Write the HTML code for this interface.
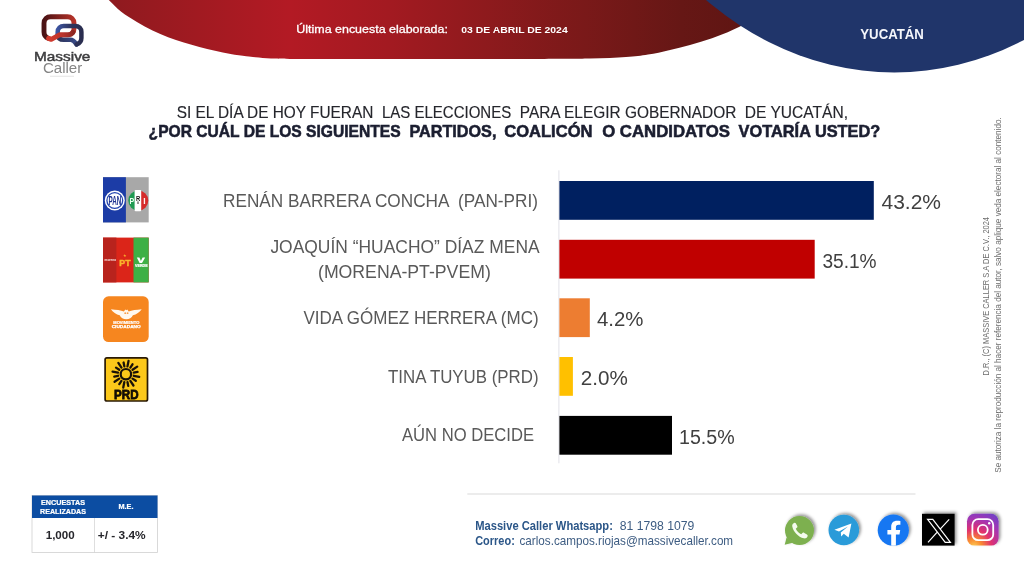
<!DOCTYPE html>
<html lang="es">
<head>
<meta charset="utf-8">
<title>Massive Caller - Yucatán</title>
<style>
html,body{margin:0;padding:0;background:#fff;}
body{width:1024px;height:576px;overflow:hidden;position:relative;font-family:"Liberation Sans",sans-serif;}
svg{position:absolute;left:0;top:0;display:block;}
text{font-family:"Liberation Sans",sans-serif;}
</style>
</head>
<body>
<svg width="1024" height="576" viewBox="0 0 1024 576">
<defs>
<linearGradient id="gr" x1="107" y1="0" x2="760" y2="0" gradientUnits="userSpaceOnUse">
<stop offset="0" stop-color="#8e1a1f"/><stop offset="0.14" stop-color="#a11a21"/><stop offset="0.28" stop-color="#b31a24"/><stop offset="0.43" stop-color="#a31a21"/><stop offset="0.58" stop-color="#8e1a1d"/><stop offset="0.73" stop-color="#7a1919"/><stop offset="0.88" stop-color="#661715"/><stop offset="1" stop-color="#5e1512"/>
</linearGradient>
<filter id="sh" x="-30%" y="-30%" width="160%" height="160%"><feDropShadow dx="1.8" dy="-1.6" stdDeviation="1.6" flood-color="#000" flood-opacity="0.42"/></filter>
</defs>
<rect width="1024" height="576" fill="#fff"/>
<path d="M96.0,-14.0 C98.1,-11.7 104.5,-4.3 108.8,0.0 C113.0,4.3 116.6,8.0 121.2,11.7 C125.9,15.3 131.7,18.8 136.9,21.9 C142.1,25.0 147.3,27.9 152.5,30.5 C157.7,33.0 162.9,35.2 168.1,37.2 C173.3,39.2 178.5,40.9 183.8,42.5 C189.0,44.1 194.2,45.5 199.4,46.9 C204.6,48.3 209.8,49.6 215.0,50.8 C220.2,52.0 225.4,53.0 230.6,53.9 C235.8,54.8 242.1,55.7 246.2,56.2 C250.4,56.8 251.5,56.9 255.6,57.3 C259.7,57.7 265.3,58.2 271.0,58.5 C276.7,58.8 278.5,58.8 290.0,58.9 C301.5,59.0 314.8,59.0 340.0,59.0 C365.2,59.0 407.7,59.0 441.0,59.0 C474.3,59.0 515.2,59.1 540.0,59.0 C564.8,58.9 575.7,58.9 590.0,58.6 C604.3,58.3 616.3,57.8 626.0,57.1 C635.7,56.4 640.8,55.8 648.0,54.6 C655.2,53.5 662.0,51.8 669.0,50.2 C676.0,48.6 682.8,47.0 690.0,45.0 C697.2,43.0 704.8,40.8 712.0,38.3 C719.2,35.8 725.8,33.2 733.0,29.8 C740.2,26.4 748.0,23.0 755.0,18.0 C762.0,13.0 770.0,5.0 775.0,0.0 C780.0,-5.0 783.3,-10.0 785.0,-12.0 Z" fill="url(#gr)"/>
<ellipse cx="894.3" cy="-327.5" rx="328" ry="400" fill="#20356a"/>
<text x="296.3" y="33.3" font-size="11.7" fill="#fff" stroke="#fff" stroke-width="0.3" textLength="151.6" lengthAdjust="spacingAndGlyphs">Última encuesta elaborada:</text>
<text x="461.3" y="33" font-size="9.8" font-weight="bold" fill="#fff" textLength="106.4" lengthAdjust="spacingAndGlyphs">03 DE ABRIL DE 2024</text>
<text x="860.3" y="39" font-size="14.2" font-weight="bold" fill="#f4f6fb" textLength="63.6" lengthAdjust="spacingAndGlyphs">YUCATÁN</text>
<text y="117.6" font-size="16.4" fill="#25262c" stroke="#25262c" stroke-width="0.15" xml:space="preserve"><tspan x="176.7" textLength="196.6" lengthAdjust="spacingAndGlyphs">SI EL DÍA DE HOY FUERAN</tspan> <tspan x="381.9" textLength="129.3" lengthAdjust="spacingAndGlyphs">LAS ELECCIONES</tspan> <tspan x="519.8" textLength="216.5" lengthAdjust="spacingAndGlyphs">PARA ELEGIR GOBERNADOR</tspan> <tspan x="744.8" textLength="103.2" lengthAdjust="spacingAndGlyphs">DE YUCATÁN,</tspan></text>
<text y="137.4" font-size="16.4" font-weight="bold" fill="#1b1e30" stroke="#1b1e30" stroke-width="0.55" xml:space="preserve"><tspan x="148.6" textLength="252" lengthAdjust="spacingAndGlyphs">¿POR CUÁL DE LOS SIGUIENTES</tspan> <tspan x="405" textLength="91.4" lengthAdjust="spacingAndGlyphs"> PARTIDOS,</tspan> <tspan x="504.2" textLength="88.3" lengthAdjust="spacingAndGlyphs">COALICÓN</tspan> <tspan x="597.5" textLength="132.5" lengthAdjust="spacingAndGlyphs"> O CANDIDATOS</tspan> <tspan x="738.6" textLength="141.7" lengthAdjust="spacingAndGlyphs">VOTARÍA USTED?</tspan></text>
<rect x="558.4" y="170.3" width="1" height="293" fill="#e2e2e8"/>
<rect x="559.4" y="181" width="314.4" height="38.8" fill="#002060"/>
<rect x="559.4" y="239.8" width="255.3" height="38.8" fill="#c00000"/>
<rect x="559.4" y="298.3" width="30.4" height="38.8" fill="#ed7d31"/>
<rect x="559.4" y="357" width="13.5" height="38.8" fill="#ffc000"/>
<rect x="559.4" y="415.9" width="112.6" height="38.8" fill="#000000"/>
<text x="881.5" y="209.4" font-size="20.5" fill="#404040" textLength="59.5" lengthAdjust="spacingAndGlyphs">43.2%</text>
<text x="822.4" y="268.2" font-size="20.5" fill="#404040" textLength="54.2" lengthAdjust="spacingAndGlyphs">35.1%</text>
<text x="597" y="326.3" font-size="20.5" fill="#404040" textLength="46.5" lengthAdjust="spacingAndGlyphs">4.2%</text>
<text x="580.8" y="385.4" font-size="20.5" fill="#404040" textLength="47" lengthAdjust="spacingAndGlyphs">2.0%</text>
<text x="679" y="443.8" font-size="20.5" fill="#404040" textLength="55.7" lengthAdjust="spacingAndGlyphs">15.5%</text>
<text x="223" y="206.7" font-size="17.6" fill="#595959" textLength="315" lengthAdjust="spacingAndGlyphs" xml:space="preserve">RENÁN BARRERA CONCHA  (PAN-PRI)</text>
<text x="270.4" y="253" font-size="17.6" fill="#595959" textLength="269.2" lengthAdjust="spacingAndGlyphs" xml:space="preserve">JOAQUÍN “HUACHO” DÍAZ MENA</text>
<text x="318" y="278.3" font-size="17.6" fill="#595959" textLength="172.8" lengthAdjust="spacingAndGlyphs" xml:space="preserve">(MORENA-PT-PVEM)</text>
<text x="303.4" y="323.8" font-size="17.6" fill="#595959" textLength="235.2" lengthAdjust="spacingAndGlyphs" xml:space="preserve">VIDA GÓMEZ HERRERA (MC)</text>
<text x="388" y="383.4" font-size="17.6" fill="#595959" textLength="150.6" lengthAdjust="spacingAndGlyphs" xml:space="preserve">TINA TUYUB (PRD)</text>
<text x="402" y="441.3" font-size="17.6" fill="#595959" textLength="132" lengthAdjust="spacingAndGlyphs" xml:space="preserve">AÚN NO DECIDE</text>
<g id="panpri"><rect x="103" y="177.2" width="45.7" height="45.2" fill="#a8a8a8"/><rect x="103" y="177.2" width="22.9" height="45.2" fill="#1c3ca6"/><circle cx="114.8" cy="200.5" r="10" fill="#fff"/><circle cx="114.8" cy="200.5" r="7.9" fill="none" stroke="#2446b0" stroke-width="1.3"/><text x="108.5" y="205.3" font-size="13.6" font-weight="bold" fill="#1c318f" textLength="12.8" lengthAdjust="spacingAndGlyphs">PAN</text><clipPath id="pric"><circle cx="138.3" cy="200.6" r="10"/></clipPath><g clip-path="url(#pric)"><rect x="127" y="190" width="8" height="22" fill="#1f9a52"/><rect x="141" y="190" width="8" height="22" fill="#d52b2b"/></g><rect x="134.6" y="190" width="6.6" height="21.2" rx="1" fill="#fff"/><text x="129.4" y="204.3" font-size="9.9" font-weight="bold" fill="#eafff0" textLength="4.7" lengthAdjust="spacingAndGlyphs">P</text><text x="135.9" y="200.6" font-size="8" font-weight="bold" fill="#111" textLength="4.2" lengthAdjust="spacingAndGlyphs">R</text><rect x="137" y="201.4" width="2" height="2.6" fill="#333" opacity="0.5"/><text x="143.2" y="204.3" font-size="9.9" font-weight="bold" fill="#fff0ee" textLength="2.4" lengthAdjust="spacingAndGlyphs">I</text></g>
<g id="mpv"><rect x="103" y="237.6" width="45.7" height="44.8" fill="#db2519"/><rect x="103" y="237.6" width="13.4" height="44.8" fill="#b8231d"/><rect x="133.5" y="237.6" width="15.2" height="44.8" fill="#3db045"/><text x="104.6" y="261" font-size="4.4" font-weight="bold" fill="#fbe9e6" textLength="11.4" lengthAdjust="spacingAndGlyphs">morena</text><text x="119.3" y="266.2" font-size="9.2" font-weight="bold" fill="#f9b52c" stroke="#f9b52c" stroke-width="0.45" textLength="11.2" lengthAdjust="spacingAndGlyphs">PT</text><text x="125.2" y="257.2" font-size="3.6" fill="#f9b52c" text-anchor="middle">★</text><path d="M136.8 257.4 L139.4 257.4 L140.9 261 L142.6 257.4 L145.2 257.4 L142 263 L139.6 263 Z" fill="#fff"/><circle cx="141" cy="257.8" r="1.1" fill="#3db045"/><text x="135" y="267.2" font-size="4" font-weight="bold" fill="#fff" stroke="#fff" stroke-width="0.2" textLength="12.6" lengthAdjust="spacingAndGlyphs">VERDE</text></g>
<g id="mc"><rect x="103" y="296.3" width="45.7" height="45.8" rx="5.6" fill="#f6861f"/><path transform="translate(-0.7 -0.3)" d="M111.6 309.5 C117 310.1 121.5 310.5 124.6 311.7 L126 309.8 L127 310.6 L128 309.8 L129.4 311.7 C132.5 310.5 137 310.1 142.4 309.5 C140.6 312.4 137 314.6 133.6 315.6 C132.4 318 130 319.6 127 319.6 C124 319.6 121.6 318 120.4 315.6 C117 314.6 113.4 312.4 111.6 309.5 Z" fill="#fff8ee"/><circle cx="125.2" cy="313.2" r="0.9" fill="#f6861f" opacity="0.8"/><circle cx="127.6" cy="313.2" r="0.9" fill="#f6861f" opacity="0.8"/><text x="126.3" y="324" font-size="3.2" font-weight="bold" fill="#fff" stroke="#fff" stroke-width="0.15" text-anchor="middle" textLength="26" lengthAdjust="spacingAndGlyphs">MOVIMIENTO</text><text x="126.2" y="327.8" font-size="3.9" font-weight="bold" fill="#fff" stroke="#fff" stroke-width="0.25" text-anchor="middle" textLength="29" lengthAdjust="spacingAndGlyphs">CIUDADANO</text></g>
<g id="prd"><rect x="105.1" y="357.8" width="42.4" height="43.2" rx="1.8" fill="#fcc81a" stroke="#2a1a05" stroke-width="1.7"/><circle cx="125.9" cy="374.2" r="5.2" fill="none" stroke="#1a1208" stroke-width="2.2"/><path d="M133.75 375.76 L139.24 376.85 M132.55 378.64 L135.79 380.81 M130.34 380.85 L133.46 385.51 M127.46 382.05 L128.22 385.87 M124.34 382.05 L123.25 387.54 M121.46 380.85 L119.29 384.09 M119.25 378.64 L114.59 381.76 M118.05 375.76 L114.23 376.52 M118.05 372.64 L112.56 371.55 M119.25 369.76 L116.01 367.59 M121.46 367.55 L118.34 362.89 M124.34 366.35 L123.58 362.53 M127.46 366.35 L128.55 360.86 M130.34 367.55 L132.51 364.31 M132.55 369.76 L137.21 366.64 M133.75 372.64 L137.57 371.88 " stroke="#1a1208" stroke-width="2.3" stroke-linecap="round" fill="none"/><text x="126.3" y="399" font-size="12.8" font-weight="bold" fill="#120c04" stroke="#120c04" stroke-width="0.8" text-anchor="middle" textLength="24.4" lengthAdjust="spacingAndGlyphs">PRD</text></g>
<g id="tbl"><rect x="32" y="495.5" width="125.5" height="57" fill="#fff" stroke="#d0d0d0" stroke-width="0.8"/><rect x="32" y="495.5" width="125.5" height="22.5" fill="#0c4da2"/><rect x="94.2" y="518" width="0.7" height="34.5" fill="#d0d0d0"/><text x="63" y="504.6" font-size="6.6" font-weight="bold" fill="#fff" stroke="#fff" stroke-width="0.2" text-anchor="middle" textLength="44" lengthAdjust="spacingAndGlyphs">ENCUESTAS</text><text x="63" y="513.6" font-size="6.6" font-weight="bold" fill="#fff" stroke="#fff" stroke-width="0.2" text-anchor="middle" textLength="46" lengthAdjust="spacingAndGlyphs">REALIZADAS</text><text x="126" y="509" font-size="6.6" font-weight="bold" fill="#fff" stroke="#fff" stroke-width="0.2" text-anchor="middle" textLength="15" lengthAdjust="spacingAndGlyphs">M.E.</text><text x="60.2" y="539" font-size="10.2" font-weight="bold" fill="#26262b" text-anchor="middle" textLength="29" lengthAdjust="spacingAndGlyphs">1,000</text><text x="121.7" y="539" font-size="10.2" font-weight="bold" fill="#26262b" text-anchor="middle" textLength="48" lengthAdjust="spacingAndGlyphs">+/ - 3.4%</text></g>
<g id="ftr" font-size="12.4"><rect x="467.3" y="493.2" width="448.2" height="1.6" fill="#e8e8e8"/><text x="475.2" y="530.4" font-weight="bold" fill="#2b5688" textLength="137.7" lengthAdjust="spacingAndGlyphs">Massive Caller Whatsapp:</text><text x="619.7" y="530.4" fill="#3d5c82" textLength="74.7" lengthAdjust="spacingAndGlyphs">81 1798 1079</text><text x="475.2" y="545.2" font-weight="bold" fill="#2b5688" textLength="39.6" lengthAdjust="spacingAndGlyphs">Correo:</text><text x="519.5" y="545.2" fill="#3d5c82" textLength="213.6" lengthAdjust="spacingAndGlyphs">carlos.campos.riojas@massivecaller.com</text></g>
<g id="icons"><g filter="url(#sh)"><circle cx="799.5" cy="530.4" r="14.5" fill="#7db04f"/><path d="M786.6 537.6 L784.7 544.8 L792.6 542.8 Z" fill="#7db04f"/></g><path transform="translate(799.7 530.6) scale(1.14) translate(-798.85 -529.3)" d="M794 522.6 c-1.2 0.4 -1.9 1.6 -1.7 2.9 c0.8 4.8 5.2 9.4 10.2 10.6 c1.4 0.3 2.7 -0.4 3.2 -1.6 c0.3 -0.8 0.1 -1.4 -0.5 -1.8 l-2.3 -1.4 c-0.7 -0.4 -1.4 -0.3 -1.9 0.3 l-0.8 0.9 c-2.1 -1 -3.8 -2.7 -4.8 -4.8 l0.9 -0.8 c0.6 -0.5 0.7 -1.2 0.3 -1.9 l-1.2 -2.1 c-0.3 -0.5 -0.9 -0.6 -1.4 -0.3 z" fill="#f4fbee"/><g filter="url(#sh)"><circle cx="843.8" cy="530" r="15.3" fill="#2b9bd9"/></g><path d="M834.4 529.8 L851.4 523.4 L848.6 537.4 L843.8 533.8 L841.2 536.4 L840.8 532.4 L848 526.4 L839 531.6 Z" fill="#fff"/><g filter="url(#sh)"><circle cx="893.3" cy="530.2" r="15.6" fill="#1877f2"/></g><clipPath id="fbc"><circle cx="893.3" cy="530.2" r="15.6"/></clipPath><path clip-path="url(#fbc)" d="M891.2 546.5 L891.2 534.4 L887.4 534.4 L887.4 530 L891.2 530 L891.2 526.8 C891.2 522.8 893.6 520.8 897 520.8 C898.6 520.8 900 521 900.4 521.1 L900.4 524.8 L898.4 524.8 C896.6 524.8 895.9 525.8 895.9 527.2 L895.9 530 L900.2 530 L899.5 534.4 L895.9 534.4 L895.9 546.5 Z" fill="#fff"/><g filter="url(#sh)"><rect x="922" y="513.8" width="32.6" height="31.8" fill="#000"/></g><path d="M927.6 519.4 L932.8 519.4 L950.4 542.4 L945.2 542.4 Z M928 542.4 L937 532.4 M940.4 528.8 L949.2 519.4" fill="none" stroke="#fff" stroke-width="1.2"/><radialGradient id="ig" cx="0.22" cy="1.05" r="1.25"><stop offset="0" stop-color="#fdd057"/><stop offset="0.2" stop-color="#f98a31"/><stop offset="0.45" stop-color="#e0306f"/><stop offset="0.72" stop-color="#a336b4"/><stop offset="1" stop-color="#6a42c8"/></radialGradient><g filter="url(#sh)"><rect x="967" y="513.8" width="31.6" height="31.8" rx="7.5" fill="url(#ig)"/></g><rect x="972.4" y="519.2" width="20.8" height="21" rx="5.8" fill="none" stroke="#fff" stroke-width="1.8"/><circle cx="982.8" cy="529.8" r="4.9" fill="none" stroke="#fff" stroke-width="1.8"/><circle cx="989.2" cy="523.3" r="1.2" fill="#fff"/></g>
<g id="side" fill="#6c6c6c"><text transform="translate(988.8 375.5) rotate(-90)" font-size="8.2" textLength="158.5" lengthAdjust="spacingAndGlyphs">D.R., (C) MASSIVE CALLER S.A DE C.V., 2024</text><text transform="translate(1000.5 472.8) rotate(-90)" font-size="8.2" textLength="355.5" lengthAdjust="spacingAndGlyphs">Se autoriza la reproducción al hacer referencia del autor, salvo aplique veda electoral al contenido.</text></g>
<g id="mclogo"><linearGradient id="lr" x1="44" y1="0" x2="75" y2="0" gradientUnits="userSpaceOnUse"><stop offset="0" stop-color="#4b1315"/><stop offset="0.3" stop-color="#6d1c1a"/><stop offset="1" stop-color="#b8342a"/></linearGradient><linearGradient id="lr2" x1="74" y1="0" x2="50" y2="0" gradientUnits="userSpaceOnUse"><stop offset="0" stop-color="#8a2621"/><stop offset="0.45" stop-color="#b8322a"/><stop offset="1" stop-color="#d23b2f"/></linearGradient><linearGradient id="lb" x1="57" y1="0" x2="83" y2="0" gradientUnits="userSpaceOnUse"><stop offset="0" stop-color="#3c55a2"/><stop offset="0.5" stop-color="#2e3560"/><stop offset="1" stop-color="#292d4e"/></linearGradient><linearGradient id="lb2" x1="58" y1="0" x2="80" y2="0" gradientUnits="userSpaceOnUse"><stop offset="0" stop-color="#2c3258"/><stop offset="1" stop-color="#3a4f92"/></linearGradient><path d="M48.6 38.4 C45.6 37.4 44 35.2 44 32 L44 23.2 C44 19.2 46.8 16.7 50.6 16.7 L67.4 16.7 C71.2 16.7 74 19.2 74 23.2 L74 28.4 C74 30 73.6 31.4 72.8 32.4" fill="none" stroke="url(#lr)" stroke-width="4.9" stroke-linejoin="round" stroke-linecap="round"/><path d="M57.7 35 C57.9 38 60.2 39.8 63.6 39.8 L70.6 39.8 C73.4 39.8 74.8 42 76.6 44.4" fill="none" stroke="url(#lb2)" stroke-width="4.5" stroke-linejoin="round" stroke-linecap="round"/><path d="M57.7 35 L57.7 31.8 C57.7 28.3 60.2 26 63.8 26 L75.2 26 C79 26 81.4 28.4 81.4 32 L81.4 38 C81.4 41 80 43.2 76.6 44.4" fill="none" stroke="url(#lb)" stroke-width="4.5" stroke-linejoin="round" stroke-linecap="round"/><path d="M72.8 32.4 C71.8 34 70 34.8 67.8 34.8 L59.5 34.8 L51.2 39.4 L48.6 38.4" fill="none" stroke="url(#lr2)" stroke-width="4.9" stroke-linejoin="round" stroke-linecap="round"/><text x="34" y="61" font-size="12.8" fill="#3c3c3e" stroke="#3c3c3e" stroke-width="0.45" textLength="56.4" lengthAdjust="spacingAndGlyphs">Massive</text><text x="42.9" y="73.2" font-size="13.8" fill="#858585" textLength="39.4" lengthAdjust="spacingAndGlyphs">Caller</text><rect x="50" y="75.8" width="24" height="0.8" fill="#dcdcdc"/></g>
</svg>
</body>
</html>
